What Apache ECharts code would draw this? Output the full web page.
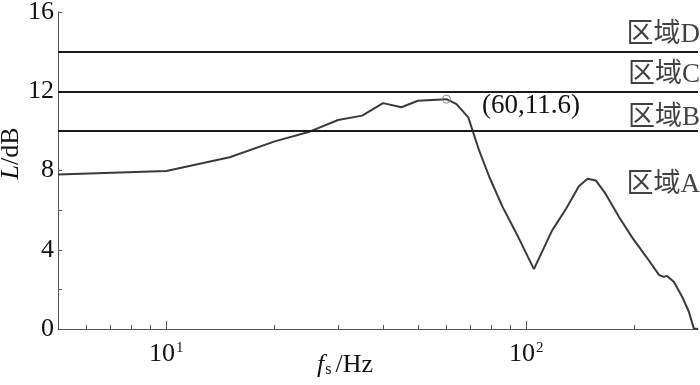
<!DOCTYPE html>
<html>
<head>
<meta charset="utf-8">
<script src="https://cdn.jsdelivr.net/npm/echarts@6/dist/echarts.min.js"></script>
<style>
html,body{margin:0;padding:0;background:#fff;}
#chart{width:700px;height:385px;}
</style>
</head>
<body>
<div id="chart"></div>
<script>
// 频率 (Hz) 与 声级 L (dB)
var freq = [5, 10, 15, 20, 25, 30, 35, 40, 45, 50, 60, 64, 69, 74, 79, 86, 95, 105, 118, 129, 140, 148, 156, 166, 181, 197, 215, 234, 241, 246, 257, 271, 283, 292, 300];
var level = [7.8, 7.97, 8.67, 9.47, 9.96, 10.55, 10.77, 11.4, 11.19, 11.52, 11.6, 11.35, 10.68, 9.0, 7.66, 6.15, 4.64, 3.02, 4.98, 6.07, 7.2, 7.58, 7.5, 6.83, 5.65, 4.61, 3.67, 2.72, 2.63, 2.68, 2.38, 1.63, 0.87, 0.03, 0];

// 区域分界线
var boundLevels = [10, 12, 14];
var zoneNames = ['区域D', '区域C', '区域B', '区域A'];
var zoneLevels = [14.85, 12.8, 10.65, 7.25];

// 标注点
var peakPoint = [60, 11.6];

// 刻度
var majorTicks = [10, 100];
var minorTicks = [6, 7, 8, 9, 20, 30, 40, 50, 60, 70, 80, 90, 200];
var xMin = 5, xMax = 300;

var serif = '"Liberation Serif", "Times New Roman", "Noto Sans CJK SC", serif';

var lineData = [];
for (var i = 0; i < freq.length; i++) {
    lineData.push([freq[i], level[i]]);
}
var zoneData = [];
for (var j = 0; j < zoneNames.length; j++) {
    zoneData.push({ value: [xMax, zoneLevels[j]], name: zoneNames[j] });
}
var markLines = [];
for (var k = 0; k < boundLevels.length; k++) {
    markLines.push({ yAxis: boundLevels[k] });
}

var chart = echarts.init(document.getElementById('chart'));
var option = {
    animation: false,
    backgroundColor: '#fff',
    grid: { left: 58, right: 2, top: 12, bottom: 56, outerBoundsMode: 'none' },
    xAxis: [{
        type: 'log',
        logBase: 10,
        min: xMin,
        max: xMax,
        position: 'bottom',
        axisLine: { lineStyle: { color: '#555', width: 1 } },
        axisTick: { inside: true, length: 8, customValues: majorTicks, lineStyle: { color: '#555' } },
        axisLabel: {
            customValues: majorTicks,
            margin: 12,
            formatter: function (v) {
                var e = Math.round(Math.log(v) / Math.LN10);
                return '{b|10}{s|' + e + '}';
            },
            rich: {
                b: { fontFamily: serif, fontSize: 26, color: '#111' },
                s: { fontFamily: serif, fontSize: 15, color: '#111', verticalAlign: 'top', padding: [0, 0, 0, 1] }
            }
        },
        splitLine: { show: false },
        name: '{i|f}{sub|s}{n|/Hz}',
        nameLocation: 'middle',
        nameGap: 23,
        nameMoveOverlap: false,
        nameTextStyle: {
            padding: [0, 66, 0, 0],
            rich: {
                i: { fontFamily: serif, fontStyle: 'italic', fontSize: 26, color: '#111', padding: [0, 1, 0, 0] },
                sub: { fontFamily: serif, fontSize: 16, color: '#111', verticalAlign: 'bottom', padding: [0, 4, 0, 0] },
                n: { fontFamily: serif, fontSize: 26, color: '#111' }
            }
        }
    }, {
        type: 'log',
        logBase: 10,
        min: xMin,
        max: xMax,
        position: 'bottom',
        axisLine: { show: false },
        axisTick: { inside: true, length: 4, customValues: minorTicks, lineStyle: { color: '#555' } },
        axisLabel: { show: false },
        splitLine: { show: false }
    }],
    yAxis: {
        type: 'value',
        min: 0,
        max: 16,
        interval: 4,
        axisLine: { show: true, lineStyle: { color: '#555', width: 1 } },
        axisTick: { inside: true, length: 4, lineStyle: { color: '#555' } },
        minorTick: { show: true, splitNumber: 2, length: 4, lineStyle: { color: '#555' } },
        splitLine: { show: false },
        axisLabel: { fontFamily: serif, fontSize: 26, color: '#111', margin: 4 },
        name: '{i|L}{n|/dB}',
        nameLocation: 'middle',
        nameRotate: 90,
        nameGap: 34,
        nameMoveOverlap: false,
        nameTextStyle: {
            padding: [0, 0, 0, 34],
            rich: {
                i: { fontFamily: serif, fontStyle: 'italic', fontSize: 26, color: '#111' },
                n: { fontFamily: serif, fontSize: 26, color: '#111' }
            }
        }
    },
    series: [{
        type: 'line',
        xAxisIndex: 0,
        data: lineData,
        showSymbol: false,
        lineStyle: { color: '#3a3a3a', width: 2 },
        markLine: {
            silent: true,
            symbol: ['none', 'none'],
            label: { show: false },
            lineStyle: { color: '#1a1a1a', width: 2, type: 'solid' },
            data: markLines
        },
        markPoint: {
            silent: true,
            symbol: 'circle',
            symbolSize: 8,
            itemStyle: { color: 'rgba(255,255,255,0)', borderColor: '#888', borderWidth: 1 },
            label: {
                show: true,
                position: 'right',
                offset: [26, 7],
                formatter: '(' + peakPoint[0] + ',' + peakPoint[1] + ')',
                fontFamily: serif,
                fontSize: 27,
                color: '#111'
            },
            data: [{ coord: peakPoint }]
        }
    }, {
        type: 'scatter',
        xAxisIndex: 0,
        data: zoneData,
        symbolSize: 0,
        silent: true,
        label: {
            show: true,
            position: 'left',
            distance: 0,
            offset: [2, 0],
            formatter: '{b}',
            fontFamily: serif,
            fontSize: 27,
            color: '#111'
        }
    }]
};
chart.setOption(option);
</script>
</body>
</html>
